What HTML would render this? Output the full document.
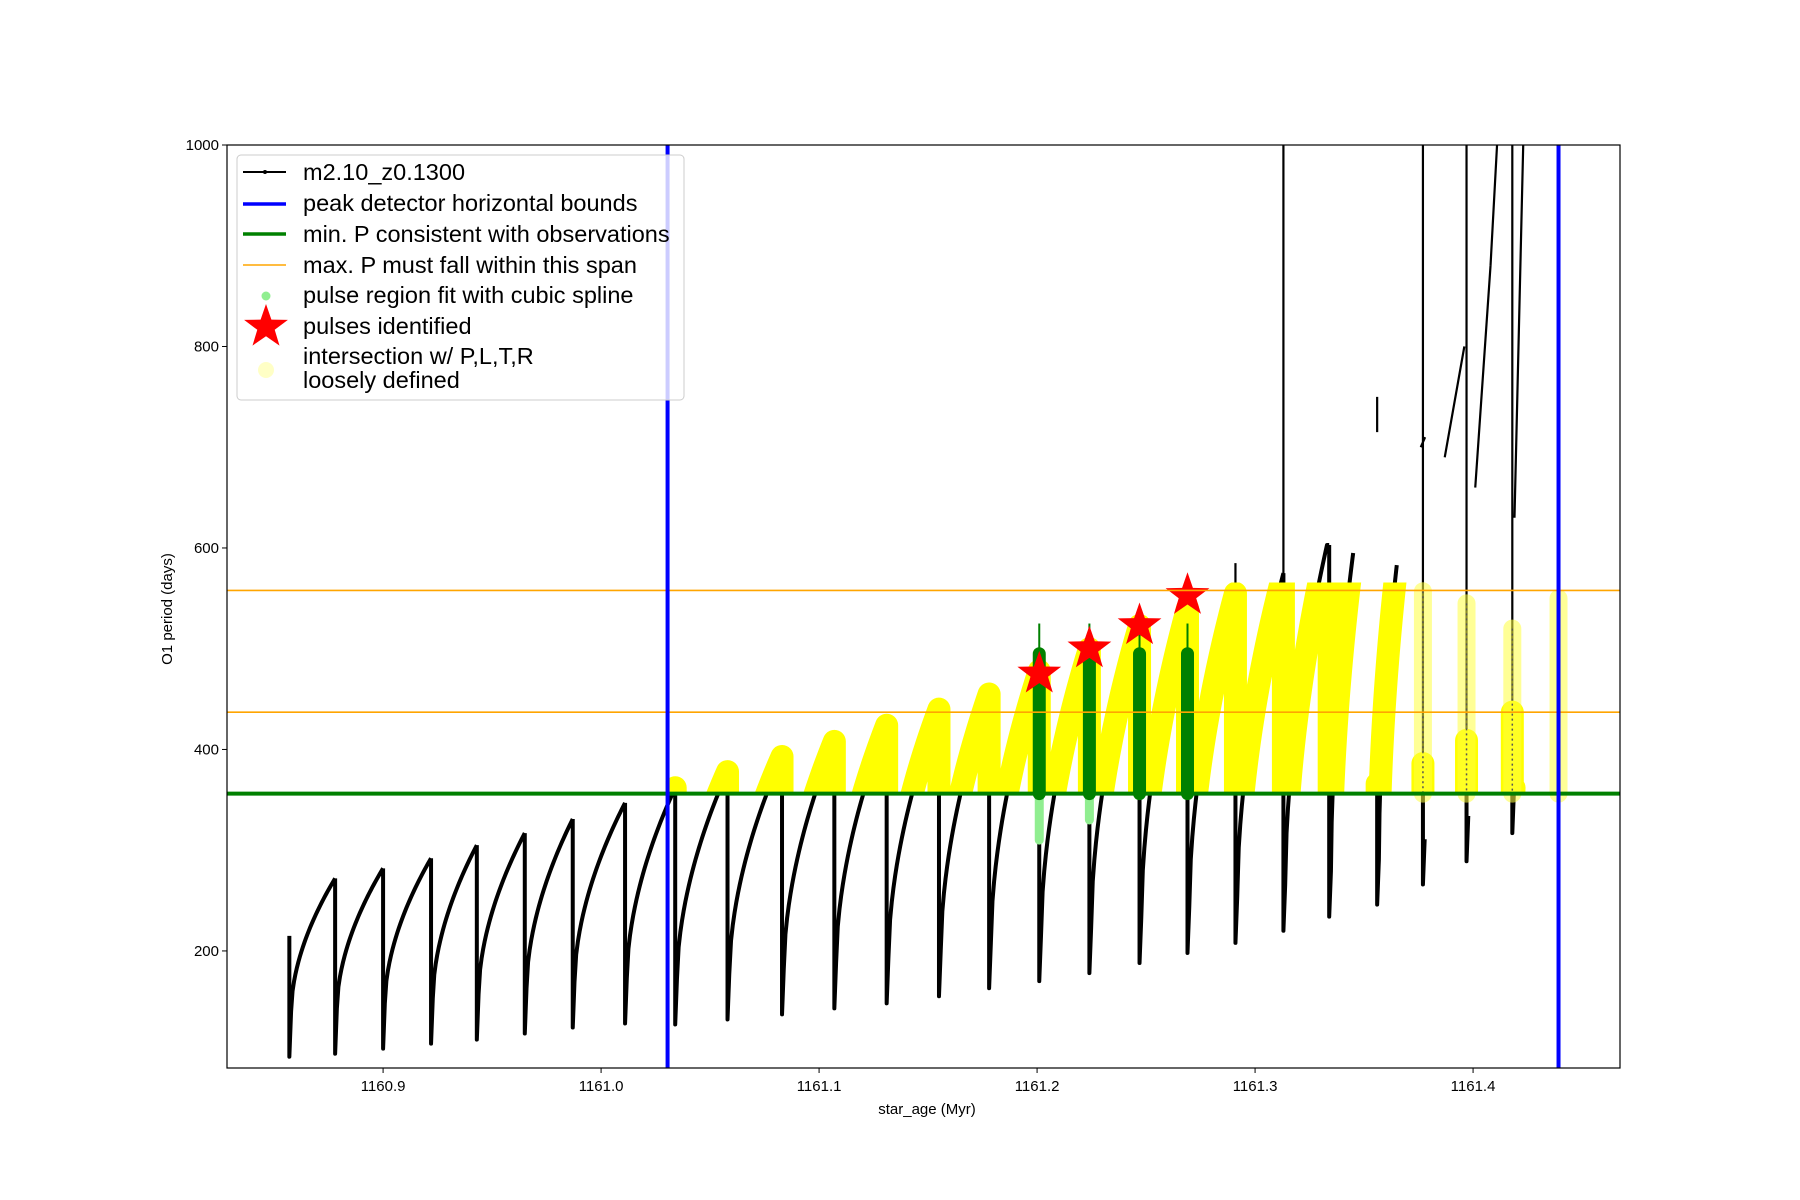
<!DOCTYPE html>
<html><head><meta charset="utf-8"><style>
html,body{margin:0;padding:0;background:#fff;}
svg{display:block;font-family:"Liberation Sans","DejaVu Sans",sans-serif;}
</style></head><body>
<svg id="chart" width="1800" height="1200" viewBox="0 0 1800 1200">
<defs><clipPath id="bandclip"><rect id="bandrect" x="0" y="0" width="0" height="0"/></clipPath>
<clipPath id="plotclip"><rect x="227" y="145" width="1393" height="923"/></clipPath></defs>
<g id="plot" clip-path="url(#plotclip)"></g>
<rect x="227" y="145" width="1393" height="923" fill="none" stroke="#000" stroke-width="1.2"/>
<g id="axes"></g>
<text x="927" y="1114" font-size="15" text-anchor="middle">star_age (Myr)</text>
<text transform="translate(172,609) rotate(-90)" font-size="15" text-anchor="middle">O1 period (days)</text>
<g>
<rect x="237" y="155" width="447" height="245" rx="4" fill="#fff" fill-opacity="0.8" stroke="#ccc"/>
<g font-size="23.5">
<line x1="243" y1="172" x2="286" y2="172" stroke="#000" stroke-width="2"/><circle cx="265" cy="172" r="2"/>
<text x="303" y="180">m2.10_z0.1300</text>
<line x1="243" y1="204" x2="286" y2="204" stroke="#00f" stroke-width="3.5"/>
<text x="303" y="211">peak detector horizontal bounds</text>
<line x1="243" y1="234" x2="286" y2="234" stroke="#008000" stroke-width="3.5"/>
<text x="303" y="242">min. P consistent with observations</text>
<line x1="243" y1="265" x2="286" y2="265" stroke="orange" stroke-width="1.5"/>
<text x="303" y="273">max. P must fall within this span</text>
<circle cx="266" cy="296" r="4.5" fill="#90ee90"/>
<text x="303" y="303">pulse region fit with cubic spline</text>
<polygon id="legstar" fill="red"/>
<text x="303" y="334">pulses identified</text>
<circle cx="266" cy="370" r="8" fill="#ffffa0" fill-opacity="0.6"/>
<text x="303" y="364">intersection w/ P,L,T,R</text>
<text x="303" y="388">loosely defined</text>
</g></g>
</svg>
<script>
const pulseAges=[1160.857,1160.878,1160.900,1160.922,1160.943,1160.965,1160.987,1161.011,1161.034,1161.058,1161.083,1161.107,1161.131,1161.155,1161.178,1161.201,1161.224,1161.247,1161.269,1161.291,1161.313,1161.334,1161.356,1161.377,1161.397,1161.418];
const troughP=[95,98,103,108,112,118,124,128,127,132,137,143,148,155,163,170,178,188,198,208,220,234,246,266,289,317];
const peakP=[272,282,292,305,317,331,347,362,378,393,408,424,440,455,478,500,523,540,555,575,603,595,583,0,0,0];
const cycleEnd=[1160.878,1160.900,1160.922,1160.943,1160.965,1160.987,1161.011,1161.034,1161.058,1161.083,1161.107,1161.131,1161.155,1161.178,1161.201,1161.224,1161.247,1161.269,1161.291,1161.313,1161.333,1161.345,1161.365,0,0,0];
const extraAges=[[1161.313,220,1161.313,1000],[1161.377,266,1161.377,1000],[1161.397,289,1161.397,1000],[1161.418,317,1161.418,1000],[1161.356,715,1161.356,750],[1161.376,700,1161.378,710],[1161.387,690,1161.396,800],[1161.401,660,1161.408,880],[1161.408,880,1161.411,1000],[1161.419,630,1161.423,1000],[1161.291,356,1161.291,585],[1161.269,356,1161.269,560]];
const paleAges=[1161.377,1161.397,1161.418,1161.4392];
const paleTop=[557,545,520,550];
const minP=356.1, maxP1=557.8, maxP2=437;
const bounds=[1161.0305,1161.4392];
const starAges=[1161.201,1161.224,1161.247,1161.269];
const starP=[475,500,523,553];
const greenTop=[495,495,495,495];
const lightLow=[310,330,356,356];
const xTicks=[1160.9,1161.0,1161.1,1161.2,1161.3,1161.4];
const yTicks=[200,400,600,800,1000];

const X0=227,X1=1620,Y0=145,Y1=1068,xmin=1160.8284,xmax=1161.4674,ymin=83.8,ymax=1000;
const sx=a=>X0+(a-xmin)/(xmax-xmin)*(X1-X0);
const sy=p=>Y1-(p-ymin)/(ymax-ymin)*(Y1-Y0);
const NS='http://www.w3.org/2000/svg';
const plot=document.getElementById('plot'),axes=document.getElementById('axes');
function mk(t,a,parent){const e=document.createElementNS(NS,t);for(const k in a)e.setAttribute(k,a[k]);(parent||plot).appendChild(e);return e;}

let d='';
for(let i=0;i<pulseAges.length;i++){
  const a=pulseAges[i];
  const connected=i>0&&peakP[i-1]>0&&cycleEnd[i-1]>=a-0.0015;
  if(connected){d+=`L${sx(a)},${sy(peakP[i-1])} `;}
  d+=`M${sx(a)},${sy(connected?peakP[i-1]:troughP[i]+120)} L${sx(a)},${sy(troughP[i])} L${sx(a+0.0008)},${sy(troughP[i]+45)} `;
  if(peakP[i]>0){
    const s=troughP[i]+45,e=cycleEnd[i];
    for(let k=1;k<=30;k++){const f=k/30;const t=a+0.0008+(e-a-0.0008)*f;const p=s+(peakP[i]-s)*Math.pow(f,0.55);d+=`L${sx(t)},${sy(p)} `;}
  }
}
let dx='';
extraAges.forEach(s=>{dx+=`M${sx(s[0])},${sy(s[1])} L${sx(s[2])},${sy(s[3])} `;});

const bl=mk('path',{d:d,fill:'none',stroke:'#000','stroke-width':4,'stroke-linejoin':'round'});


const bx=mk('path',{d:dx,fill:'none',stroke:'#000','stroke-width':2.2});



const br=document.getElementById('bandrect');
br.setAttribute('x',sx(bounds[0])-2);br.setAttribute('width',sx(bounds[1])-sx(bounds[0])+4);
br.setAttribute('y',sy(maxP1)-8);br.setAttribute('height',sy(minP)-sy(maxP1)+8);
const yl=mk('path',{d:d,fill:'none',stroke:'#ffff00','stroke-width':23,'stroke-linecap':'round','stroke-linejoin':'round','clip-path':'url(#bandclip)'});


paleAges.forEach((a,i)=>{
  const p=mk('line',{x1:sx(a),x2:sx(a),y1:sy(paleTop[i]),y2:sy(minP),stroke:'#ffff40','stroke-opacity':0.55,'stroke-width':18,'stroke-linecap':'round'});
  
  
  mk('line',{x1:sx(a),x2:sx(a),y1:sy(paleTop[i]),y2:sy(minP),stroke:'#555','stroke-width':1.5,'stroke-dasharray':'2 3'});
});

starAges.forEach((a,i)=>{
  const lg=mk('line',{x1:sx(a),x2:sx(a),y1:sy(lightLow[i]),y2:sy(minP),stroke:'#90ee90','stroke-width':9,'stroke-linecap':'round'});
  
  
  const g=mk('line',{x1:sx(a),x2:sx(a),y1:sy(greenTop[i]),y2:sy(minP),stroke:'#008000','stroke-width':13,'stroke-linecap':'round'});
  
  
  mk('line',{x1:sx(a),x2:sx(a),y1:sy(greenTop[i]+30),y2:sy(greenTop[i]),stroke:'#008000','stroke-width':2});
});

function starPts(cx,cy,R){const r=R*0.4;let p=[];for(let k=0;k<10;k++){const ang=-Math.PI/2+k*Math.PI/5;const rr=k%2?r:R;p.push((cx+rr*Math.cos(ang)).toFixed(1)+','+(cy+rr*Math.sin(ang)).toFixed(1));}return p.join(' ');}
starAges.forEach((a,i)=>{
  const s=mk('polygon',{points:starPts(sx(a),sy(starP[i]),23),fill:'red'});
  
  
});
document.getElementById('legstar').setAttribute('points',starPts(266,327,23));

[[minP,'#008000',4,'min-p-line'],[maxP1,'orange',1.6,'max-p-upper-line'],[maxP2,'orange',1.6,'max-p-lower-line']].forEach(h=>{
  const l=mk('line',{x1:X0,x2:X1,y1:sy(h[0]),y2:sy(h[0]),stroke:h[1],'stroke-width':h[2]});
  
  
});
bounds.forEach((b,i)=>{
  const l=mk('line',{x1:sx(b),x2:sx(b),y1:Y0,y2:Y1,stroke:'#00f','stroke-width':4});
  
  
});

xTicks.forEach(t=>{
  mk('line',{x1:sx(t),x2:sx(t),y1:Y1,y2:Y1+5,stroke:'#000'},axes);
  const tx=mk('text',{x:sx(t),y:Y1+23,'font-size':15,'text-anchor':'middle'},axes);
  tx.textContent=t.toFixed(1);
  
  
});
yTicks.forEach(t=>{
  mk('line',{x1:X0-5,x2:X0,y1:sy(t),y2:sy(t),stroke:'#000'},axes);
  const tx=mk('text',{x:X0-8,y:sy(t)+5,'font-size':15,'text-anchor':'end'},axes);
  tx.textContent=t;
  
  
});
</script>
</body></html>
